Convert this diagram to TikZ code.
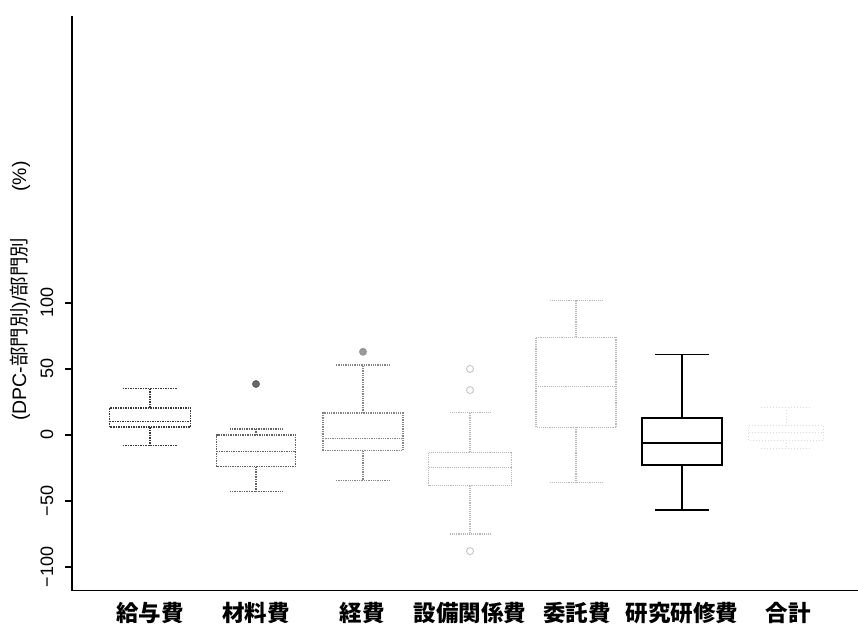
\documentclass[tikz,border=0pt]{standalone}
\usepackage{fontspec}
\setmainfont{Liberation Sans}
\newfontfamily\jpfont{Noto Sans CJK JP}

\tikzset{
  box dark/.style={draw=black!78,densely dotted,line width=1.5pt},
  box mid/.style={draw=black!62,densely dotted,line width=1.4pt},
  box grey/.style={draw=black!48,densely dotted,line width=1.3pt},
  box pale/.style={draw=black!28,densely dotted,line width=1.1pt},
  box faint/.style={draw=black!14,dotted,line width=1pt},
  box solid/.style={draw=black,line width=1.8pt},
  cat label/.style={font=\jpfont\bfseries\fontsize{22.5}{23}\selectfont,inner sep=0pt},
  tick label/.style={font=\fontsize{18}{18}\selectfont,rotate=90,inner sep=0pt}
}

\begin{document}
\begin{tikzpicture}[x=1pt,y=1.32pt]
                    \useasboundingbox (0,-143.2) rectangle (858,329.5);
                    \draw[line width=1.5pt] (72,317.4) -- (72,-117.8) -- (858,-117.8);
                    \foreach \v/\t [count=\i] in {100/100,50/50,0/0,-50/−50,-100/−100} {
                        \draw[line width=1.2pt] (72,\v) -- (65,\v);
                        \node[tick label] (tick \i) at (47,\v) {\t};
                    }
                    \node[rotate=90,font=\fontsize{19.5}{20}\selectfont,inner sep=0pt] (y label) at (20,109)
                        {(DPC-{\jpfont 部門別})/{\jpfont 部門別}\hspace{46pt}(\%)};
                    \foreach \cx/\w/\c/\lo/\qa/\md/\qb/\hi/\st in {
                        150/40.5/27.5/-8/6/10/20.5/35/box dark,
                        256/39.5/26.5/-43/-24/-12.6/0/4.5/box mid,
                        363/40/27/-34.6/-12/-2.8/16.7/53/box grey,
                        470/41.5/20/-75/-38.4/-24.7/-13/17/box pale,
                        576/40/26.5/-36/5.8/37/74/102/box pale,
                        682/40/27/-56.6/-22.7/-6.3/13/61/box solid,
                        786/37.5/25/-10.6/-4/2/7/20.5/box faint} {
                        \draw[\st] (\cx-\w,\qa) rectangle (\cx+\w,\qb);
                        \draw[\st] (\cx-\w,\md) -- (\cx+\w,\md);
                        \draw[\st] (\cx,\qb) -- (\cx,\hi) (\cx-\c,\hi) -- (\cx+\c,\hi);
                        \draw[\st] (\cx,\qa) -- (\cx,\lo) (\cx-\c,\lo) -- (\cx+\c,\lo);
                    }
                    % outliers
                    \fill[black!60] (256,38.6) circle[radius=4pt];
                    \fill[black!40] (363,63) circle[radius=4pt];
                    \draw[black!25,line width=0.8pt] (470,50) circle[radius=3.5pt];
                    \draw[black!25,line width=0.8pt] (470,34) circle[radius=3.5pt];
                    \draw[black!25,line width=0.8pt] (470,-88) circle[radius=3.5pt];
                    \foreach \cx/\t [count=\i] in {150/給与費,256/材料費,362/経費,470/設備関係費,577/委託費,682/研究研修費,788/合計}
                        \node[cat label] (cat \i) at (\cx,-135) {\t};

                \end{tikzpicture}
\end{document}
